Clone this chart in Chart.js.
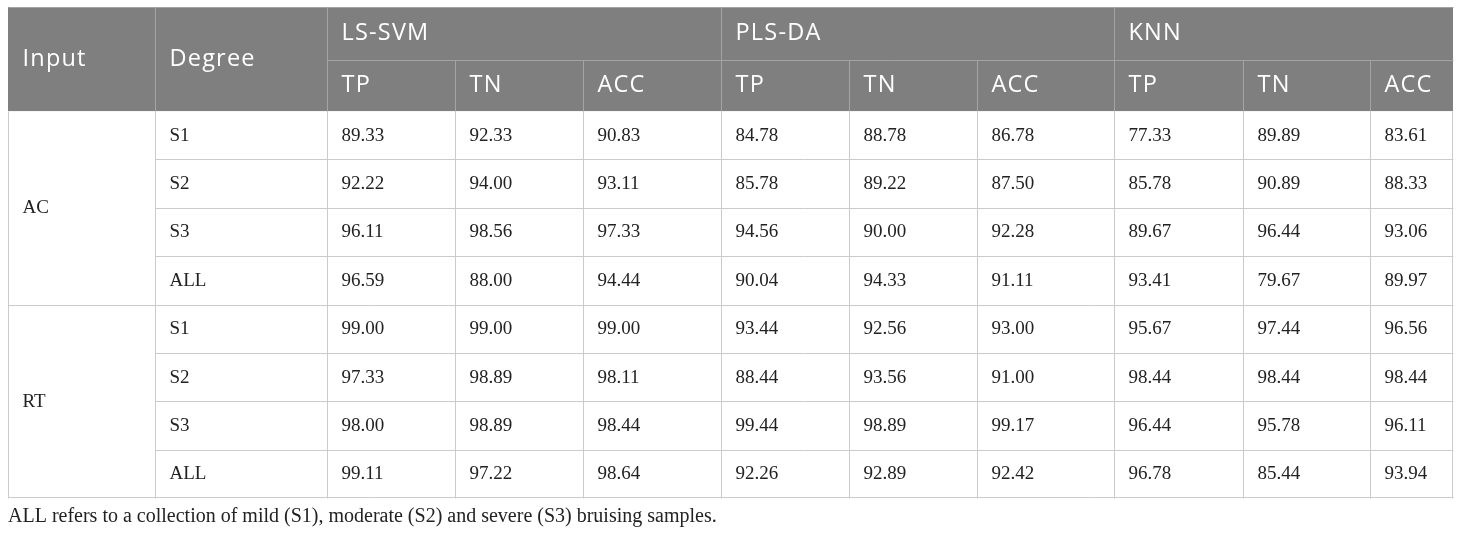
<!DOCTYPE html>
<html>
<head>
<meta charset="utf-8">
<script src="https://cdn.jsdelivr.net/npm/chart.js@4/dist/chart.umd.min.js"></script>
<style>
  html, body { margin: 0; background: #fff; }
  #wrap { width: 1460px; height: 535px; }
</style>
</head>
<body>
<div id="wrap"><canvas id="tbl" width="1460" height="535"></canvas></div>
<script>
// ---- table content ----
const inputs = ['AC', 'RT'];
const degrees = ['S1', 'S2', 'S3', 'ALL'];
const models = ['LS-SVM', 'PLS-DA', 'KNN'];
const metrics = ['TP', 'TN', 'ACC'];
const headInput = 'Input';
const headDegree = 'Degree';

// columns: LS-SVM TP/TN/ACC, PLS-DA TP/TN/ACC, KNN TP/TN/ACC
const acValues = [
    ['89.33', '92.33', '90.83', '84.78', '88.78', '86.78', '77.33', '89.89', '83.61'],
    ['92.22', '94.00', '93.11', '85.78', '89.22', '87.50', '85.78', '90.89', '88.33'],
    ['96.11', '98.56', '97.33', '94.56', '90.00', '92.28', '89.67', '96.44', '93.06'],
    ['96.59', '88.00', '94.44', '90.04', '94.33', '91.11', '93.41', '79.67', '89.97']
];
const rtValues = [
    ['99.00', '99.00', '99.00', '93.44', '92.56', '93.00', '95.67', '97.44', '96.56'],
    ['97.33', '98.89', '98.11', '88.44', '93.56', '91.00', '98.44', '98.44', '98.44'],
    ['98.00', '98.89', '98.44', '99.44', '98.89', '99.17', '96.44', '95.78', '96.11'],
    ['99.11', '97.22', '98.64', '92.26', '92.89', '92.42', '96.78', '85.44', '93.94']
];
const footNote = 'ALL refers to a collection of mild (S1), moderate (S2) and severe (S3) bruising samples.';

// ---- layout (table units = px) ----
const colWidths = [147, 172, 128, 128, 138, 128, 128, 137, 129, 127, 83];
const headRowHeights = [53, 51];
const bodyRowHeight = 48.33;
const padX = 14.5;

const colEdges = [0];
colWidths.forEach(w => colEdges.push(colEdges[colEdges.length - 1] + w));
const rowEdges = [0];
headRowHeights.forEach(h => rowEdges.push(rowEdges[rowEdges.length - 1] + h));
for (let i = 0; i < inputs.length * degrees.length; i++) rowEdges.push(rowEdges[rowEdges.length - 1] + bodyRowHeight);
const tableW = colEdges[colEdges.length - 1];
const tableH = rowEdges[rowEdges.length - 1];
const headH = rowEdges[2];
const mid = (a, b) => (a + b) / 2;

// ---- cell points ----
const headCells = [
    { x: colEdges[0], y: mid(0, headH), text: headInput },
    { x: colEdges[1], y: mid(0, headH), text: headDegree }
];
models.forEach((m, i) => {
    headCells.push({ x: colEdges[2 + i * 3], y: mid(rowEdges[0], rowEdges[1]), text: m });
    metrics.forEach((t, j) => headCells.push({ x: colEdges[2 + i * 3 + j], y: mid(rowEdges[1], rowEdges[2]), text: t }));
});

const labelCells = [];
const valueCells = [];
[acValues, rtValues].forEach((block, b) => {
    const r0 = 2 + b * degrees.length;
    labelCells.push({ x: colEdges[0], y: mid(rowEdges[r0], rowEdges[r0 + degrees.length]), text: inputs[b] });
    block.forEach((row, r) => {
        const y = mid(rowEdges[r0 + r], rowEdges[r0 + r + 1]);
        labelCells.push({ x: colEdges[1], y: y, text: degrees[r] });
        row.forEach((v, c) => valueCells.push({ x: colEdges[2 + c], y: y, text: v }));
    });
});

const HEAD_FILL = '#7f7f7f';
const HEAD_LINE = '#a3a3a3';
const BODY_LINE = '#cbcbcb';

const tablePlugin = {
    id: 'tablePlugin',
    beforeDatasetsDraw(chart) {
        const { ctx, scales: { x, y } } = chart;
        const px = v => Math.round(x.getPixelForValue(v)) + 0.5;
        const py = v => Math.round(y.getPixelForValue(v)) + 0.5;
        const line = (x1, y1, x2, y2, col) => {
            ctx.strokeStyle = col; ctx.lineWidth = 1;
            ctx.beginPath(); ctx.moveTo(x1, y1); ctx.lineTo(x2, y2); ctx.stroke();
        };
        ctx.save();
        // header band
        ctx.fillStyle = HEAD_FILL;
        ctx.fillRect(x.getPixelForValue(0), y.getPixelForValue(0),
            x.getPixelForValue(tableW) - x.getPixelForValue(0), y.getPixelForValue(headH) - y.getPixelForValue(0));
        // header lines
        line(px(colEdges[2]), py(rowEdges[1]), px(tableW), py(rowEdges[1]), HEAD_LINE);
        [1, 2, 5, 8].forEach(c => line(px(colEdges[c]), py(0), px(colEdges[c]), py(headH), HEAD_LINE));
        [3, 4, 6, 7, 9, 10].forEach(c => line(px(colEdges[c]), py(rowEdges[1]), px(colEdges[c]), py(headH), HEAD_LINE));
        // body horizontal lines
        for (let r = 3; r < rowEdges.length - 1; r++) {
            const startCol = (r - 2) % degrees.length === 0 ? 0 : 1;
            line(px(colEdges[startCol]), py(rowEdges[r]), px(tableW), py(rowEdges[r]), BODY_LINE);
        }
        // body vertical lines
        for (let c = 1; c < colEdges.length - 1; c++) line(px(colEdges[c]), py(headH), px(colEdges[c]), py(tableH), BODY_LINE);
        // outer border
        line(px(0), py(headH), px(0), py(tableH), BODY_LINE);
        line(px(tableW) - 1, py(headH), px(tableW) - 1, py(tableH), BODY_LINE);
        line(px(0), py(tableH) - 1, px(tableW), py(tableH) - 1, BODY_LINE);
        line(px(0), py(0), px(tableW), py(0), HEAD_LINE);
        ctx.restore();
    },
    afterDatasetsDraw(chart) {
        const ctx = chart.ctx;
        ctx.save();
        ctx.textAlign = 'left';
        ctx.textBaseline = 'middle';
        chart.data.datasets.forEach((ds, i) => {
            const meta = chart.getDatasetMeta(i);
            ctx.font = ds.cellFont;
            ctx.fillStyle = ds.cellColor;
            ctx.letterSpacing = ds.cellSpacing;
            meta.data.forEach((pt, k) => ctx.fillText(ds.data[k].text, pt.x + padX, pt.y + ds.cellShift));
        });
        ctx.restore();
    }
};

new Chart(document.getElementById('tbl'), {
    type: 'scatter',
    data: {
        datasets: [
            { label: 'header', data: headCells, pointRadius: 0, cellFont: '23.5px "Open Sans"', cellColor: '#ffffff', cellSpacing: '1.2px', cellShift: 0 },
            { label: 'labels', data: labelCells, pointRadius: 0, cellFont: '19px "Liberation Serif"', cellColor: '#222222', cellSpacing: '0px', cellShift: 0.5 },
            { label: 'values', data: valueCells, pointRadius: 0, cellFont: '19px "Liberation Serif"', cellColor: '#222222', cellSpacing: '0px', cellShift: 0.5 }
        ]
    },
    options: {
        responsive: false,
        animation: false,
        devicePixelRatio: 1,
        layout: { padding: { left: 8, top: 7, right: 7, bottom: 0 } },
        scales: {
            x: { type: 'linear', min: 0, max: tableW, display: false },
            y: { type: 'linear', min: 0, max: tableH, reverse: true, display: false }
        },
        plugins: {
            legend: { display: false },
            tooltip: { enabled: false },
            title: {
                display: true,
                position: 'bottom',
                align: 'start',
                text: footNote,
                color: '#222222',
                font: { family: '"Liberation Serif"', size: 20, weight: 'normal' },
                padding: { top: 7, bottom: 6 }
            }
        }
    },
    plugins: [tablePlugin]
});
</script>
</body>
</html>
